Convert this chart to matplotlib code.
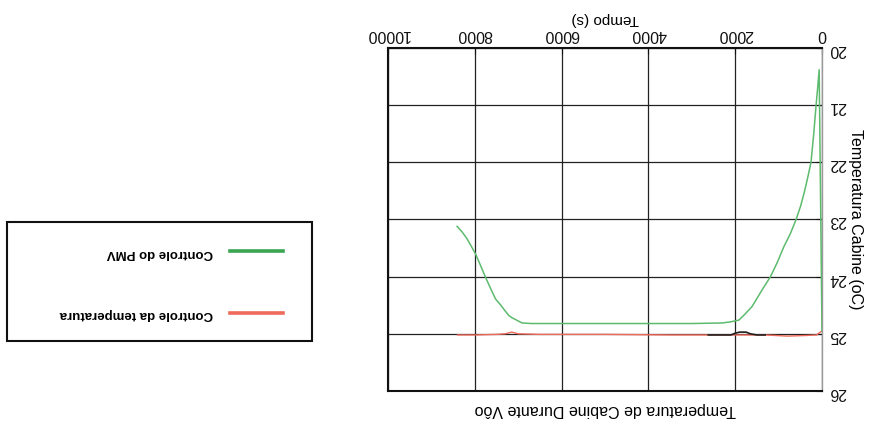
import matplotlib
matplotlib.use("Agg")
import matplotlib.pyplot as plt
from matplotlib.lines import Line2D
from matplotlib.patches import Rectangle

plt.rcParams['font.family'] = ['Liberation Sans', 'DejaVu Sans']

# cabin temperature, PMV control (time s, temperature oC)
t_pmv = [0, 65, 100, 138, 190, 253, 330, 400, 490, 597, 730, 881, 1030, 1187,
         1379, 1609, 1780, 1915, 2100, 2300, 3000, 4000, 5000, 6000, 6700, 6908,
         6990, 7062, 7140, 7216, 7300, 7400, 7523, 7640, 7754, 7870, 7985, 8080,
         8177, 8290, 8408]
temp_pmv = [24.95, 20.38, 20.7, 21.02, 21.5, 22.0, 22.27, 22.5, 22.76, 23.0, 23.25,
            23.48, 23.75, 24.0, 24.23, 24.52, 24.66, 24.76, 24.79, 24.81, 24.82,
            24.82, 24.82, 24.82, 24.82, 24.81, 24.78, 24.75, 24.72, 24.68, 24.6,
            24.5, 24.39, 24.2, 24.01, 23.8, 23.6, 23.47, 23.34, 23.22, 23.12]

# cabin temperature, temperature control
t_temp = [0, 60, 120, 400, 800, 1300, 2600, 3500, 5000, 6500, 7000, 7150, 7300,
          7500, 8000, 8400]
temp_temp = [24.95, 24.98, 25.02, 25.03, 25.04, 25.02, 25.02, 25.02, 25.01, 25.01,
             25.0, 24.97, 25.0, 25.01, 25.02, 25.02]

# dark trace overlapping the temperature control line
t_dark = [1310, 1500, 1650, 1750, 1900, 2000, 2100, 2620]
temp_dark = [25.02, 25.02, 25.0, 24.97, 24.97, 24.99, 25.02, 25.02]

x_ticks = [0, 2000, 4000, 6000, 8000, 10000]
y_ticks = [20, 21, 22, 23, 24, 25, 26]

green = '#5dbb6e'
red = '#ee6a5a'

fig = plt.figure(figsize=(8.69, 4.23), dpi=100)
ax = fig.add_axes([0.4465, 0.0757, 0.4994, 0.8108])

ax.plot(t_temp, temp_temp, color=red, lw=1.0, zorder=3)
ax.plot(t_dark, temp_dark, color='#222222', lw=1.2, zorder=3)
ax.plot(t_pmv, temp_pmv, color=green, lw=1.1, zorder=4)

# whole chart is shown turned upside down
ax.set_xlim(10000, 0)
ax.set_ylim(26, 20)
ax.set_xticks(x_ticks)
ax.set_yticks(y_ticks)
ax.xaxis.tick_top()
ax.yaxis.tick_right()
ax.tick_params(direction='in', length=4, labelsize=11.5, labelrotation=180,
               colors='#111111')
ax.tick_params(axis='x', pad=4)
ax.tick_params(axis='y', pad=5)
ax.grid(True, color='#222222', lw=0.9)

for side in ['left', 'bottom', 'top']:
    ax.spines[side].set_linewidth(1.5)
    ax.spines[side].set_color('#111111')
ax.spines['right'].set_color('#999999')
ax.spines['right'].set_linewidth(1.0)

ax.xaxis.set_label_position('top')
ax.set_xlabel('Tempo (s)', rotation=180, fontsize=11, labelpad=3)
ax.yaxis.set_label_position('right')
ax.set_ylabel('Temperatura Cabine (oC)', rotation=270, fontsize=11.5, labelpad=6,
              va='center')

fig.text(0.697, 0.031, 'Temperatura de Cabine Durante Vôo', rotation=180,
         ha='center', va='center', fontsize=11.5)

# legend box (drawn by hand so its text can be turned over too)
fig.patches.append(Rectangle((0.0081, 0.1939), 0.351, 0.2813, transform=fig.transFigure,
                             fill=False, edgecolor='#111111', lw=1.5))
fig.lines.append(Line2D([0.2647, 0.3257], [0.4066, 0.4066], transform=fig.transFigure,
                        color='#3aa652', lw=2.6))
fig.lines.append(Line2D([0.2647, 0.3257], [0.26, 0.26], transform=fig.transFigure,
                        color=red, lw=2.6))
fig.text(0.245, 0.402, 'Controle do PMV', rotation=180, ha='right', va='center',
         fontsize=9.5, fontweight='bold')
fig.text(0.245, 0.258, 'Controle da temperatura', rotation=180, ha='right', va='center',
         fontsize=9.5, fontweight='bold')

fig.savefig('out.png', dpi=100)
